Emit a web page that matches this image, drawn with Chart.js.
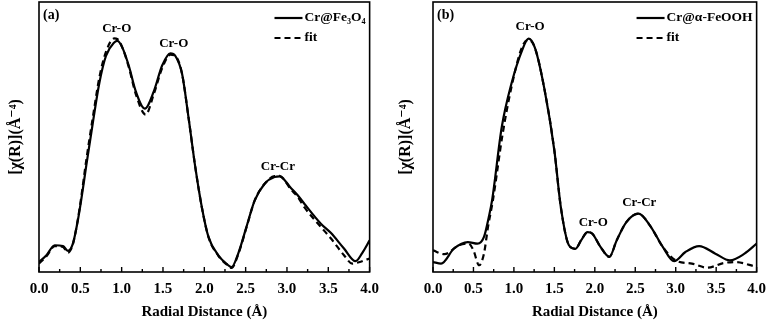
<!DOCTYPE html>
<html>
<head>
<meta charset="utf-8">
<script src="https://cdn.jsdelivr.net/npm/chart.js@4/dist/chart.umd.min.js"></script>
<style>
  html, body { margin: 0; padding: 0; background: #fff; }
  #wrap { position: relative; width: 774px; height: 323px; }
  canvas { position: absolute; top: 0; }
  #chart_a { left: 0; }
  #chart_b { left: 390px; }
</style>
</head>
<body>
<div id="wrap">
  <canvas id="chart_a" width="387" height="323"></canvas>
  <canvas id="chart_b" width="384" height="323"></canvas>
</div>
<script>
// x ticks, shared by both panels
const r_ticks = [0.0, 0.5, 1.0, 1.5, 2.0, 2.5, 3.0, 3.5, 4.0];

// panel (a): Cr@Fe3O4, measured |chi(R)| (arbitrary units)
const a_obs_r   = [0.00, 0.09, 0.19, 0.29, 0.35, 0.41, 0.47, 0.51, 0.57, 0.65, 0.73, 0.81, 0.91, 0.95, 1.01, 1.09, 1.17, 1.28, 1.39, 1.49, 1.59, 1.65, 1.73, 1.81, 1.89, 1.97, 2.05, 2.17, 2.27, 2.33, 2.41, 2.51, 2.61, 2.73, 2.85, 2.91, 3.05, 3.13, 3.21, 3.41, 3.53, 3.69, 3.83, 3.91, 4.00];
const a_obs_chi = [3.7, 6.2, 9.9, 9.6, 7.8, 10.5, 19.1, 26.5, 39, 55, 70, 80, 85, 85.6, 83, 76, 67, 60.5, 67, 76.5, 81, 80, 73.5, 57, 39, 24, 13, 6.2, 3, 1.8, 6.8, 16.7, 26.5, 32.7, 35.2, 35.4, 31, 28.4, 25.3, 17.9, 14.5, 8.7, 4.0, 7.0, 11.7];

// panel (a): fit
const a_fit_r   = [0.00, 0.09, 0.19, 0.29, 0.35, 0.41, 0.47, 0.51, 0.57, 0.65, 0.73, 0.81, 0.91, 0.95, 1.01, 1.09, 1.17, 1.29, 1.39, 1.49, 1.59, 1.65, 1.73, 1.81, 1.89, 1.97, 2.05, 2.17, 2.27, 2.33, 2.41, 2.51, 2.61, 2.73, 2.85, 2.91, 3.05, 3.13, 3.21, 3.41, 3.53, 3.69, 3.79, 3.87, 4.00];
const a_fit_chi = [3.1, 5.8, 9.6, 9.3, 7.2, 10.3, 19.5, 27.5, 41, 57, 72, 81.5, 86.5, 86.2, 83, 75.5, 66, 58.3, 66, 75.5, 80.5, 80, 73.5, 57, 39, 24, 13, 6, 2.8, 1.5, 6.5, 16.5, 26.5, 32.7, 35.5, 35.6, 30.5, 27.8, 24, 16.7, 12.5, 6.2, 3.1, 3.6, 5.0];

// panel (b): Cr@a-FeOOH, measured
const b_obs_r   = [0.00, 0.10, 0.26, 0.43, 0.55, 0.63, 0.69, 0.73, 0.85, 0.97, 1.10, 1.18, 1.26, 1.38, 1.50, 1.58, 1.68, 1.76, 1.83, 1.91, 1.97, 2.07, 2.18, 2.27, 2.39, 2.54, 2.68, 2.84, 2.98, 3.12, 3.29, 3.49, 3.67, 3.85, 4.00];
const b_obs_chi = [3.7, 3.1, 8.7, 11.1, 10.5, 13, 20.4, 26.5, 53.7, 69.8, 82, 86.4, 83, 67.3, 45, 24, 9.9, 8.6, 11.7, 14.8, 14.2, 9.3, 5.6, 11.7, 18.5, 21.6, 17.3, 9.3, 4.0, 7.4, 9.6, 6.8, 4.3, 6.8, 10.5];

// panel (b): fit
const b_fit_r   = [0.00, 0.14, 0.32, 0.44, 0.50, 0.57, 0.63, 0.68, 0.74, 0.86, 0.97, 1.10, 1.18, 1.26, 1.38, 1.50, 1.58, 1.68, 1.76, 1.83, 1.91, 1.97, 2.07, 2.18, 2.27, 2.39, 2.54, 2.68, 2.84, 3.00, 3.20, 3.39, 3.59, 3.73, 4.00];
const b_fit_chi = [8.0, 6.6, 9.9, 10.5, 8.0, 2.5, 6.8, 16.7, 26.5, 51, 68.5, 83.3, 86, 83, 67.3, 45, 24, 9.9, 8.6, 11.7, 14.8, 14.2, 9.3, 5.6, 11.7, 18.5, 21.6, 17.3, 9.3, 4.3, 3.1, 1.6, 3.3, 3.7, 1.9];

// peak labels: [text, r, chi]
const a_peaks = [['Cr-O', 0.94, 90.3], ['Cr-O', 1.63, 84.7], ['Cr-Cr', 2.89, 39.1]];
const b_peaks = [['Cr-O', 1.20, 91.0], ['Cr-O', 1.98, 18.4], ['Cr-Cr', 2.55, 25.8]];

const SERIF = '"Liberation Serif", "DejaVu Serif", serif';

function zip(xs, ys) {
    return xs.map((x, i) => ({ x, y: ys[i] }));
}

const frame_plugin = {
    id: 'frame',
    afterDraw(chart, args, opts) {
        const { ctx, chartArea: ca, scales } = chart;
        const xs = scales.x, ys = scales.y;
        ctx.save();
        ctx.strokeStyle = '#000';
        ctx.lineWidth = 1.6;
        ctx.strokeRect(ca.left, ca.top, ca.right - ca.left, ca.bottom - ca.top);

        // inward ticks on the bottom axis
        ctx.lineWidth = 1.4;
        for (let v = 0; v <= 4.0001; v += 0.25) {
            const px = xs.getPixelForValue(v);
            const major = Math.abs(v * 2 - Math.round(v * 2)) < 1e-6;
            ctx.beginPath();
            ctx.moveTo(px, ca.bottom);
            ctx.lineTo(px, ca.bottom - (major ? 5 : 3));
            ctx.stroke();
        }

        ctx.fillStyle = '#000';
        ctx.font = 'bold 13px ' + SERIF;
        ctx.textAlign = 'center';
        ctx.textBaseline = 'middle';
        for (const [txt, r, chi] of opts.peaks) {
            ctx.fillText(txt, xs.getPixelForValue(r), ys.getPixelForValue(chi));
        }

        // panel letter
        ctx.textAlign = 'left';
        ctx.font = 'bold 14px ' + SERIF;
        ctx.fillText(opts.letter, ca.left + 4, ca.top + 13);

        // legend
        ctx.font = 'bold 13.5px ' + SERIF;
        const text_right = ca.right - 4;
        const w = ctx.measureText(opts.name).width;
        const line_end = text_right - w - 2;
        const line_start = line_end - 28;
        ctx.lineWidth = 2.2;
        ctx.beginPath();
        ctx.moveTo(line_start, ca.top + 16);
        ctx.lineTo(line_end, ca.top + 16);
        ctx.stroke();
        ctx.setLineDash([6, 4]);
        ctx.beginPath();
        ctx.moveTo(line_start, ca.top + 36);
        ctx.lineTo(line_end, ca.top + 36);
        ctx.stroke();
        ctx.setLineDash([]);
        ctx.fillText(opts.name, line_end + 2, ca.top + 16);
        ctx.fillText('fit', line_end + 2, ca.top + 36);
        ctx.restore();
    }
};

function make_panel(canvas_id, obs, fit, options) {
    const ctx = document.getElementById(canvas_id);
    return new Chart(ctx, {
        type: 'line',
        data: {
            datasets: [
                {
                    label: options.name,
                    data: obs,
                    borderColor: '#000',
                    borderWidth: 2.2,
                    pointRadius: 0,
                    cubicInterpolationMode: 'monotone',
                },
                {
                    label: 'fit',
                    data: fit,
                    borderColor: '#000',
                    borderWidth: 2.2,
                    borderDash: [6, 4],
                    pointRadius: 0,
                    cubicInterpolationMode: 'monotone',
                },
            ]
        },
        options: {
            responsive: false,
            animation: false,
            events: [],
            layout: { padding: { top: 2, left: 2, right: options.pad_right, bottom: 2 } },
            plugins: {
                legend: { display: false },
                tooltip: { enabled: false },
                frame: { peaks: options.peaks, letter: options.letter, name: options.name },
            },
            scales: {
                x: {
                    type: 'linear',
                    min: 0,
                    max: 4,
                    afterBuildTicks(scale) {
                        scale.ticks = r_ticks.map(v => ({ value: v }));
                    },
                    grid: { display: false, drawTicks: false },
                    border: { display: false },
                    ticks: {
                        color: '#000',
                        padding: 8,
                        maxRotation: 0,
                        autoSkip: false,
                        font: { family: SERIF, size: 15, weight: 'bold' },
                        callback: v => v.toFixed(1),
                    },
                    title: {
                        display: true,
                        text: 'Radial Distance (Å)',
                        color: '#000',
                        padding: { top: 4, bottom: 0 },
                        font: { family: SERIF, size: 15, weight: 'bold' },
                    },
                    afterFit(scale) { scale.height = 49; },
                },
                y: {
                    min: 0,
                    max: 100,
                    grid: { display: false, drawTicks: false },
                    border: { display: false },
                    ticks: { display: false },
                    title: {
                        display: true,
                        text: '[χ(R)](Å⁻⁴)',
                        color: '#000',
                        padding: { top: 4, bottom: 0 },
                        font: { family: SERIF, size: 16, weight: 'bold' },
                    },
                    afterFit(scale) { scale.width = options.y_width; },
                },
            },
        },
        plugins: [frame_plugin],
    });
}

make_panel('chart_a', zip(a_obs_r, a_obs_chi), zip(a_fit_r, a_fit_chi), {
    name: 'Cr@Fe₃O₄', letter: '(a)', peaks: a_peaks, pad_right: 14, y_width: 37,
});
make_panel('chart_b', zip(b_obs_r, b_obs_chi), zip(b_fit_r, b_fit_chi), {
    name: 'Cr@α-FeOOH', letter: '(b)', peaks: b_peaks, pad_right: 12, y_width: 41,
});
</script>
</body>
</html>
